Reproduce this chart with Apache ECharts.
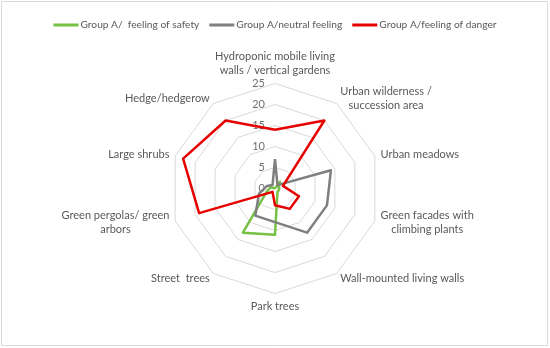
<!DOCTYPE html>
<html>
<head>
<meta charset="utf-8">
<script src="https://cdn.jsdelivr.net/npm/echarts@6/dist/echarts.min.js"></script>
<style>
html,body{margin:0;padding:0;background:#fff;}
#chart{width:550px;height:348px;}
</style>
</head>
<body>
<div id="chart"></div>
<script>
// categories listed clockwise starting at the top, as in the reference
const categories = [
  "Hydroponic mobile living\nwalls / vertical gardens",
  "Urban wilderness /\nsuccession area",
  "Urban meadows",
  "Green facades with\nclimbing plants",
  "Wall-mounted living walls",
  "Park trees",
  "Street  trees",
  "Green pergolas/ green\narbors",
  "Large shrubs",
  "Hedge/hedgerow"
];
const seriesNames = ["Group A/  feeling of safety", "Group A/neutral feeling", "Group A/feeling of danger"];
const safety  = [0, 2, 1, 1, 1, 11, 13, 2, 1, 0];
const neutral = [7, 1, 14, 13, 13, 8, 8, 4, 2, 1];
const danger  = [14, 20, 2, 6, 6, 4, 1, 19, 23, 20];
const axisMax = 25;
const colors = ["#76c043", "#7f7f7f", "#e60000"];

// ECharts radar runs counter-clockwise; reorder so the categories run clockwise
const order = [0].concat(categories.map((_, i) => i).slice(1).reverse());
const pick = arr => order.map(i => arr[i]);

const chart = echarts.init(document.getElementById('chart'));
const indicators = order.map((ci, k) => ({
  name: categories[ci], max: axisMax, min: 0,
  axisLabel: { show: k === 0 }
}));
chart.setOption({
  animation: false,
  textStyle: { fontFamily: 'Lato' },
  graphic: [{
    type: 'rect', shape: { x: 1.5, y: 1.5, width: 546, height: 344 },
    style: { fill: 'none', stroke: '#d9d9d9', lineWidth: 1 }, silent: true
  }],
  legend: {
    top: 15, left: 'center',
    itemWidth: 25, itemHeight: 3, itemGap: 10,
    icon: 'rect',
    textStyle: { color: '#595959', fontSize: 10.2, fontFamily: 'Lato', padding: [0, 0, 0, -3] },
    data: seriesNames
  },
  radar: {
    center: [275, 188.5],
    radius: 105,
    startAngle: 90,
    splitNumber: 5,
    shape: 'polygon',
    indicator: indicators,
    axisName: {
      color: '#595959', fontSize: 11, fontFamily: 'Lato', lineHeight: 14,
      formatter: name => name.split('\n').map(l => '{c|' + l + '}').join('\n'),
      rich: { c: { align: 'center', color: '#595959', fontSize: 11, fontFamily: 'Lato', lineHeight: 14 } }
    },
    nameGap: 6,
    splitLine: { lineStyle: { color: '#d9d9d9', width: 1 } },
    splitArea: { show: false },
    axisLine: { show: false },
    axisTick: { show: false },
    axisLabel: { show: true, color: '#6f6f6f', fontSize: 11, fontFamily: 'Lato', margin: 10, showMinLabel: true }
  },
  series: [{
    type: 'radar',
    symbol: 'none',
    data: [
      { name: seriesNames[0], value: pick(safety), lineStyle: { color: colors[0], width: 2.5 }, itemStyle: { color: colors[0] } },
      { name: seriesNames[1], value: pick(neutral), lineStyle: { color: colors[1], width: 2.5 }, itemStyle: { color: colors[1] } },
      { name: seriesNames[2], value: pick(danger), lineStyle: { color: colors[2], width: 2.5 }, itemStyle: { color: colors[2] } }
    ]
  }]
});
</script>
</body>
</html>
